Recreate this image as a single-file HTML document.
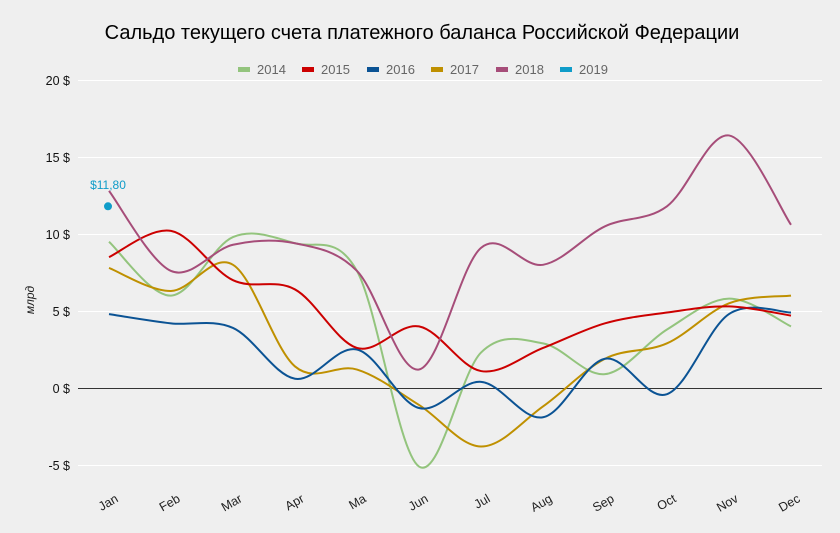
<!DOCTYPE html>
<html><head><meta charset="utf-8"><style>
html,body{margin:0;padding:0;background:#efefef;}
svg{display:block;font-family:"Liberation Sans",sans-serif;}
</style></head><body>
<svg id="s" width="840" height="533" viewBox="0 0 840 533">
<rect width="840" height="533" fill="#efefef"/>
<text x="422" y="39" text-anchor="middle" font-size="20" fill="#000">Сальдо текущего счета платежного баланса Российской Федерации</text>
<g font-size="13" fill="#666">
<rect x="238" y="67" width="12" height="5" fill="#93c47d"/><text x="257" y="74">2014</text>
<rect x="302" y="67" width="12" height="5" fill="#cc0000"/><text x="321" y="74">2015</text>
<rect x="367" y="67" width="12" height="5" fill="#0b5394"/><text x="386" y="74">2016</text>
<rect x="431" y="67" width="12" height="5" fill="#bf9000"/><text x="450" y="74">2017</text>
<rect x="496" y="67" width="12" height="5" fill="#a64d79"/><text x="515" y="74">2018</text>
<rect x="560" y="67" width="12" height="5" fill="#0f9cc9"/><text x="579" y="74">2019</text>
</g>
<g stroke="#fff" stroke-width="1">
<line x1="78" x2="822" y1="80.5" y2="80.5"/><line x1="78" x2="822" y1="157.5" y2="157.5"/>
<line x1="78" x2="822" y1="234.5" y2="234.5"/><line x1="78" x2="822" y1="311.5" y2="311.5"/>
<line x1="78" x2="822" y1="465.5" y2="465.5"/>
</g>
<line x1="78" x2="822" y1="388.5" y2="388.5" stroke="#333" stroke-width="1"/>
<g font-size="12.5" fill="#111" text-anchor="end">
<text x="70" y="85">20 $</text><text x="70" y="162">15 $</text><text x="70" y="239">10 $</text>
<text x="70" y="316">5 $</text><text x="70" y="393">0 $</text><text x="70" y="470">-5 $</text>
</g>
<text transform="translate(34,300) rotate(-90)" font-size="12" font-style="italic" text-anchor="middle" fill="#222">млрд</text>
<g id="xl" font-size="12.5" fill="#222"></g>
<g id="lines" fill="none" stroke-width="2"></g>
<circle cx="108" cy="206.3" r="4" fill="#0f9cc9"/>
<text x="108" y="189" font-size="12" fill="#0f9cc9" text-anchor="middle">$11,80</text>
</svg>
<script>
var m=["Jan","Feb","Mar","Apr","Ma","Jun","Jul","Aug","Sep","Oct","Nov","Dec"];
var X=i=>109+i*62, Y=v=>388-v*15.4;
var xl=document.getElementById('xl');
m.forEach((t,i)=>{var e=document.createElementNS("http://www.w3.org/2000/svg","text");
e.setAttribute("transform","translate("+(X(i)+10)+",501) rotate(-30)");e.setAttribute("text-anchor","end");e.textContent=t;xl.appendChild(e);});
var D=[["#93c47d",[9.5,6.0,9.8,9.4,7.6,-5.1,2.3,2.9,0.9,3.8,5.8,4.0]],
["#bf9000",[7.8,6.3,8.0,1.4,1.2,-1.1,-3.8,-1.2,1.9,2.9,5.5,6.0]],
["#0b5394",[4.8,4.2,3.9,0.6,2.5,-1.3,0.4,-1.9,1.9,-0.4,4.8,4.9]],
["#cc0000",[8.5,10.2,7.0,6.4,2.6,4.0,1.1,2.6,4.2,4.9,5.3,4.7]],
["#a64d79",[12.8,7.6,9.3,9.4,7.6,1.2,9.1,8.0,10.5,11.8,16.4,10.6]]];
var g=document.getElementById('lines');
D.forEach(d=>{var p=d[1].map((v,i)=>[X(i),Y(v)]);var s="M"+p[0];
for(var i=0;i<p.length-1;i++){var a=p[i-1]||p[i],b=p[i],c=p[i+1],e=p[i+2]||c,k=1/6;
s+=" C"+(b[0]+(c[0]-a[0])*k)+","+(b[1]+(c[1]-a[1])*k)+" "+(c[0]-(e[0]-b[0])*k)+","+(c[1]-(e[1]-b[1])*k)+" "+c[0]+","+c[1];}
var el=document.createElementNS("http://www.w3.org/2000/svg","path");el.setAttribute("d",s);el.setAttribute("stroke",d[0]);g.appendChild(el);});
</script>
</body></html>
